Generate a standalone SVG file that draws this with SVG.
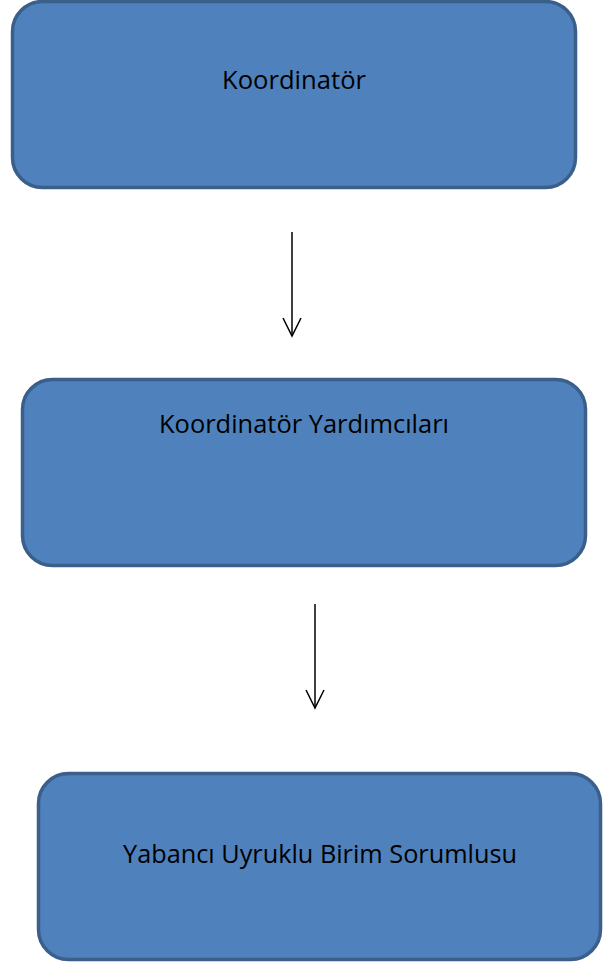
<svg xmlns="http://www.w3.org/2000/svg" width="609" height="963" viewBox="0 0 609 963">
<style>
.box{fill:#4f81bd;stroke:#3a5f8b;stroke-width:3.5}
.lbl{font-family:"Open Sans","Liberation Sans",sans-serif;font-size:25px;fill:#000;text-anchor:middle}
.con{stroke:#000;stroke-width:1.5;fill:none}
</style>
<rect width="609" height="963" fill="#fff"/>
<g id="connectors">
<line class="con" x1="292" y1="232" x2="292" y2="336"/>
<polyline class="con" points="283,318 292,336 301,318"/>
<line class="con" x1="315" y1="604" x2="315" y2="708"/>
<polyline class="con" points="306,690 315,708 324,690"/>
</g>
<g id="n1">
<rect class="box" x="12.5" y="1.5" width="563" height="186" rx="30"/>
<text class="lbl" x="294" y="89" textLength="144" lengthAdjust="spacingAndGlyphs">Koordinatör</text>
</g>
<g id="n2">
<rect class="box" x="22.5" y="379.5" width="563" height="186" rx="30"/>
<text class="lbl" x="304" y="433" textLength="290" lengthAdjust="spacingAndGlyphs">Koordinatör Yardımcıları</text>
</g>
<g id="n3">
<rect class="box" x="38.5" y="773.5" width="562" height="186" rx="30"/>
<text class="lbl" x="320" y="863" textLength="394" lengthAdjust="spacingAndGlyphs">Yabancı Uyruklu Birim Sorumlusu</text>
</g>
</svg>
